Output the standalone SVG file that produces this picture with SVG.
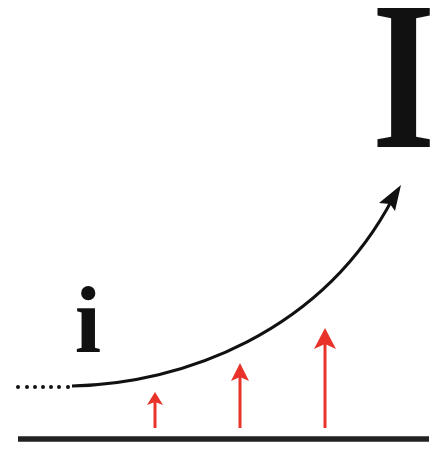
<svg xmlns="http://www.w3.org/2000/svg" width="446" height="450" viewBox="0 0 446 450">
<defs>
<style>
.lbl{font-family:"Liberation Serif","Times New Roman",serif;font-weight:bold;fill:#111;}
.red{stroke:#e8322a;stroke-width:3;fill:none;}
.redhead{fill:#e8322a;}
</style>
</defs>
<rect width="446" height="450" fill="#fff"/>
<g id="baseline"><line x1="18" y1="439" x2="429" y2="439" stroke="#222" stroke-width="5.5"/></g>
<g id="label-i"><text class="lbl" x="88" y="352" font-size="95" text-anchor="middle">i</text></g>
<g id="label-I"><text class="lbl" x="0" y="0" font-size="211" text-anchor="middle" transform="translate(403.5,147) scale(0.77,1)">I</text></g>
<g id="connectors">
<g fill="#111">
<circle cx="18" cy="387" r="2"/><circle cx="27" cy="387" r="2"/><circle cx="35" cy="387" r="2"/><circle cx="43" cy="387" r="2"/><circle cx="51" cy="387" r="2"/><circle cx="59" cy="387" r="2"/><circle cx="68" cy="387" r="2"/>
</g>
<path d="M72,386 C182,384 322,333 393,198" fill="none" stroke="#111" stroke-width="3"/>
<path d="M401,185 L395,211 L390,204 L379,203 Z" fill="#111"/>
<line class="red" x1="155" y1="428" x2="155" y2="398"/>
<path class="redhead" d="M155,392 L163,405 L155,402 L147,405 Z"/>
<line class="red" x1="240" y1="428" x2="240" y2="370"/>
<path class="redhead" d="M240,363 L249,381 L240,377 L231,381 Z"/>
<line class="red" x1="325" y1="428" x2="325" y2="335"/>
<path class="redhead" d="M325,328 L336,349 L325,344 L314,349 Z"/>
</g>
</svg>
